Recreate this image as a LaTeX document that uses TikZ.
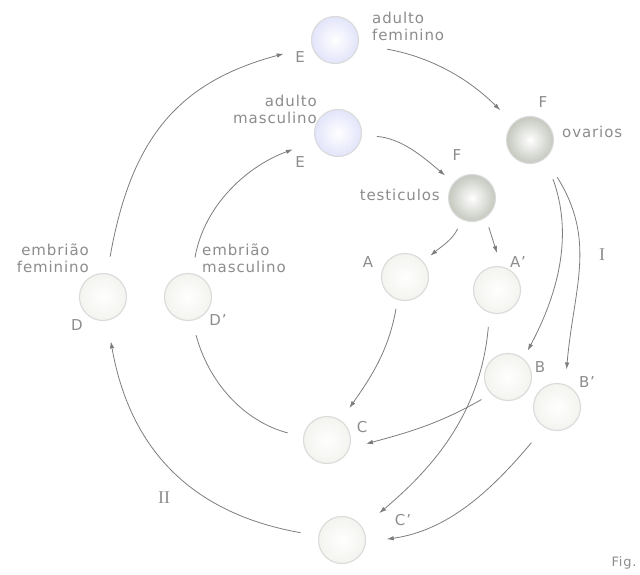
\documentclass[tikz,border=0pt]{standalone}
\usepackage{fontspec}
\setmainfont{DejaVu Sans}[LetterSpace=6]
\newfontfamily\romfont{Liberation Serif}
\usetikzlibrary{arrows.meta}

\definecolor{txtgray}{RGB}{140,140,140}
\definecolor{linegray}{RGB}{125,125,125}
\definecolor{rimgray}{RGB}{218,218,218}
\definecolor{cellgray}{RGB}{243,243,239}
\definecolor{adultblue}{RGB}{226,228,250}
\definecolor{gonadgray}{RGB}{196,200,190}

\tikzset{
  cell/.style={circle,draw=rimgray,line width=1.1pt,minimum size=47pt,inner sep=0pt,
    inner color=white,outer color=cellgray},
  adult/.style={cell,outer color=adultblue},
  gonad/.style={cell,outer color=gonadgray},
  lab/.style={text=txtgray,font=\fontsize{15}{17}\selectfont,inner sep=0pt},
  roman/.style={text=txtgray,font=\romfont\fontsize{18}{18}\selectfont,inner sep=0pt},
  arr/.style={draw=linegray,line width=0.8pt,-{Latex[length=7pt,width=4.5pt]}},
  link/.style={draw=linegray,line width=0.8pt}
}

\begin{document}
\begin{tikzpicture}[x=1pt,y=1pt]
\useasboundingbox (0,0) rectangle (640,574);
% cells
\node[adult] (efem) at (335,534) {};
\node[adult] (emasc) at (338,441) {};
\node[gonad] (fov) at (530,434) {};
\node[gonad] (ftes) at (472,376) {};
\node[cell] (a) at (405,297) {};
\node[cell] (ap) at (497,284) {};
\node[cell] (df) at (103,277) {};
\node[cell] (dm) at (188,277) {};
\node[cell] (b) at (508,197) {};
\node[cell] (bp) at (557,167) {};
\node[cell] (c) at (327,134) {};
\node[cell] (cp) at (342,34) {};

% labels
\node[lab,anchor=west,align=left] (tefem) at (372,548) {adulto\\feminino};
\node[lab] (lefem) at (300,517) {E};
\node[lab,anchor=east,align=right] (temasc) at (317,465) {adulto\\masculino};
\node[lab] (lemasc) at (300,412) {E};
\node[lab] (lfov) at (543,472) {F};
\node[lab,anchor=west] (tfov) at (562,442) {ovarios};
\node[lab] (lftes) at (457,419) {F};
\node[lab,anchor=east] (tftes) at (440,379) {testiculos};
\node[lab] (la) at (368,312) {A};
\node[lab] (lap) at (518,312) {A'};
\node[lab,anchor=east,align=right] (tdf) at (89,316) {embrião\\feminino};
\node[lab] (ldf) at (77,249) {D};
\node[lab,anchor=west,align=left] (tdm) at (202,316) {embrião\\masculino};
\node[lab] (ldm) at (218,254) {D'};
\node[lab] (lb) at (540,207) {B};
\node[lab] (lbp) at (587,192) {B'};
\node[lab] (lc) at (362,147) {C};
\node[lab] (lcp) at (403,54) {C'};
\node[roman] (rI) at (602,319) {I};
\node[roman] (rII) at (164,76) {II};
\node[lab,font=\fontsize{13}{15}\selectfont] (fig) at (624,11) {Fig.};

% cycle
\draw[arr,shorten <=17pt,shorten >=29pt] (df) to[out=80,in=195,looseness=1.15] (efem);
\draw[arr,shorten <=29pt,shorten >=18pt] (efem) to[out=-10,in=135] (fov);
\draw[arr,shorten <=16pt,shorten >=24pt] (dm) to[out=80,in=200] (emasc);
\draw[arr,shorten <=15pt,shorten >=11pt] (emasc) to[out=-5,in=140] (ftes);
\draw[arr,shorten <=10pt,shorten >=9pt] (ftes) to[out=-115,in=40] (a);
\draw[arr,shorten <=10pt,shorten >=14pt] (ftes.-55) -- (ap.80);
\draw[arr,shorten <=22pt,shorten >=9pt] (fov.-50) to[out=-70,in=62] (b.50);
\draw[arr,shorten <=22pt,shorten >=15pt] (fov.-50) to[out=-58,in=85,looseness=1.1] (bp.70);
\draw[arr,shorten <=9pt,shorten >=15pt] (a.-108) to[out=-100,in=55] (c.55);
\draw[arr,shorten <=14pt,shorten >=22pt] (ap.-108) to[out=-95,in=40] (cp.32);
\draw[arr,shorten <=11pt,shorten >=17pt] (b.-135) to[out=-150,in=15] (c.-20);
\draw[arr,shorten <=20pt,shorten >=21pt] (bp.-122) to[out=-130,in=8] (cp.-5);
\draw[link,shorten <=16pt,shorten >=15pt] (c.173) to[out=165,in=-75] (dm.-80);
\draw[arr,shorten <=18pt,shorten >=21pt] (cp) to[out=170,in=-80,looseness=1.1] (df);
\end{tikzpicture}
\end{document}
